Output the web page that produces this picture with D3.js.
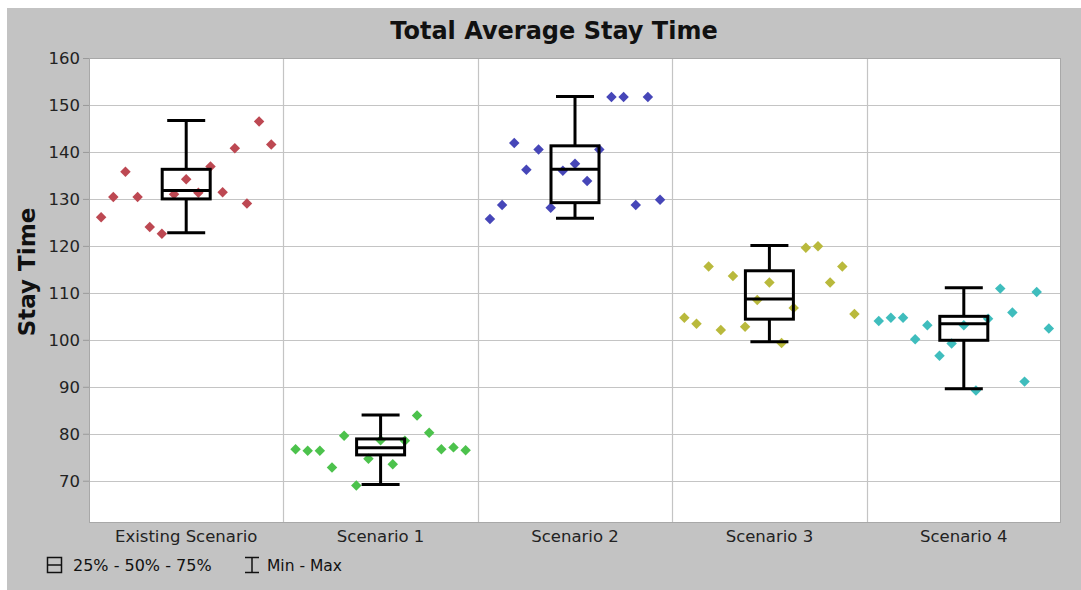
<!DOCTYPE html>
<html>
<head>
<meta charset="utf-8">
<script src="https://cdn.jsdelivr.net/npm/d3@7"></script>
<style>
  body { margin: 0; background: #fff; }
  text { font-family: "DejaVu Sans", Tahoma, sans-serif; }
</style>
</head>
<body>
<div id="chart"></div>
<script>
// scenario names
const categories = ["Existing Scenario", "Scenario 1", "Scenario 2", "Scenario 3", "Scenario 4"];
const colors = ["#bd4852", "#4cc24c", "#4646b8", "#b9b93c", "#3fbdbd"];

// replication results per scenario
const existingVals = [126.1, 130.4, 135.8, 130.4, 124.0, 122.6, 131.0, 134.2, 131.3, 136.9, 131.4, 140.8, 129.0, 146.5, 141.6];
const scen1Vals = [76.7, 76.4, 76.4, 72.8, 79.6, 69.0, 74.7, 78.6, 73.5, 78.5, 83.9, 80.2, 76.7, 77.1, 76.5];
const scen2Vals = [125.7, 128.7, 141.9, 136.2, 140.5, 128.1, 136.0, 137.5, 133.8, 140.5, 151.7, 151.7, 128.7, 151.7, 129.8];
const scen3Vals = [104.7, 103.4, 115.6, 102.1, 113.6, 102.8, 108.5, 112.2, 99.3, 106.8, 119.6, 119.9, 112.2, 115.6, 105.5];
const scen4Vals = [104.0, 104.7, 104.7, 100.1, 103.1, 96.6, 99.2, 103.1, 89.2, 104.5, 110.9, 105.8, 91.1, 110.2, 102.4];
const seriesVals = [existingVals, scen1Vals, scen2Vals, scen3Vals, scen4Vals];

// box stats shown in the chart
const minVals = [122.8, 69.2, 125.9, 99.6, 89.6];
const q1Vals = [130.0, 75.5, 129.2, 104.4, 99.9];
const medVals = [131.8, 77.0, 136.3, 108.7, 103.4];
const q3Vals = [136.3, 78.9, 141.3, 114.7, 105.0];
const maxVals = [146.7, 84.0, 151.8, 120.1, 111.1];

const yTicks = [70, 80, 90, 100, 110, 120, 130, 140, 150, 160];

const W = 1081, H = 590;
const plot = {left: 89, top: 58, right: 1061, bottom: 523};

let svg = d3.select("#chart").append("svg")
  .attr("width", W).attr("height", H);

// grey panel
svg.append("rect").attr("x", 7).attr("y", 8).attr("width", W - 7).attr("height", H - 8)
  .attr("fill", "#c3c3c3");

svg.append("rect")
  .attr("x", plot.left).attr("y", plot.top)
  .attr("width", plot.right - plot.left).attr("height", plot.bottom - plot.top)
  .attr("fill", "#fff");

let x = d3.scaleBand().domain(categories).range([plot.left, plot.right]).padding(0);
let y = d3.scaleLinear().domain([61, 160]).range([plot.bottom, plot.top]);

// gridlines
svg.append("g").selectAll("line")
  .data(yTicks)
  .enter().append("line")
    .attr("x1", plot.left).attr("x2", plot.right)
    .attr("y1", d => Math.round(y(d)) + 0.5).attr("y2", d => Math.round(y(d)) + 0.5)
    .attr("stroke", "#c4c4c4").attr("stroke-width", 1.2);

svg.append("g").selectAll("line")
  .data(categories.slice(1))
  .enter().append("line")
    .attr("x1", d => Math.round(x(d)) + 0.5).attr("x2", d => Math.round(x(d)) + 0.5)
    .attr("y1", plot.top).attr("y2", plot.bottom)
    .attr("stroke", "#c4c4c4").attr("stroke-width", 1.2);

// y axis
let yAxis = d3.axisLeft(y).tickValues(yTicks).tickSize(6).tickPadding(3);
let gy = svg.append("g").attr("transform", "translate(" + plot.left + ",0)").call(yAxis);
gy.select(".domain").remove();
gy.selectAll(".tick line").attr("stroke", "#9a9a9a");
gy.selectAll("text").attr("font-size", 16.5).attr("fill", "#222");

// x axis
let xAxis = d3.axisBottom(x).tickSize(0).tickPadding(7);
let gx = svg.append("g").attr("transform", "translate(0," + plot.bottom + ")").call(xAxis);
gx.select(".domain").remove();
gx.selectAll("text").attr("font-size", 16.5).attr("fill", "#222");

// plot frame
svg.append("rect")
  .attr("x", plot.left + 0.5).attr("y", plot.top + 0.5)
  .attr("width", plot.right - plot.left - 1).attr("height", plot.bottom - plot.top - 1)
  .attr("fill", "none").attr("stroke", "#a8a8a8");

// scatter points, evenly spread across each band
let px = d3.scalePoint().domain(d3.range(15)).range([0, x.bandwidth()]).padding(1);
let diamond = d3.symbol().type(d3.symbolDiamond2).size(70);

let groups = svg.append("g").selectAll("g")
  .data(seriesVals)
  .enter().append("g")
    .attr("transform", (d, i) => "translate(" + x(categories[i]) + ",0)")
    .attr("fill", (d, i) => colors[i]);

groups.selectAll("path")
  .data(d => d)
  .enter().append("path")
    .attr("d", diamond)
    .attr("transform", (d, i) => "translate(" + px(i) + "," + y(d) + ")");

// boxes
let boxW = 48, capW = 38;
let boxes = svg.append("g").selectAll("g")
  .data(categories)
  .enter().append("g")
    .attr("transform", d => "translate(" + (x(d) + x.bandwidth() / 2) + ",0)")
    .attr("stroke", "#000").attr("stroke-width", 3).attr("fill", "none");

boxes.append("line").attr("x1", 0).attr("x2", 0)
  .attr("y1", (d, i) => y(maxVals[i])).attr("y2", (d, i) => y(q3Vals[i]));
boxes.append("line").attr("x1", 0).attr("x2", 0)
  .attr("y1", (d, i) => y(q1Vals[i])).attr("y2", (d, i) => y(minVals[i]));
boxes.append("line").attr("x1", -capW / 2).attr("x2", capW / 2)
  .attr("y1", (d, i) => y(maxVals[i])).attr("y2", (d, i) => y(maxVals[i]));
boxes.append("line").attr("x1", -capW / 2).attr("x2", capW / 2)
  .attr("y1", (d, i) => y(minVals[i])).attr("y2", (d, i) => y(minVals[i]));
boxes.append("rect")
  .attr("x", -boxW / 2).attr("width", boxW)
  .attr("y", (d, i) => y(q3Vals[i]))
  .attr("height", (d, i) => y(q1Vals[i]) - y(q3Vals[i]));
boxes.append("line").attr("x1", -boxW / 2).attr("x2", boxW / 2)
  .attr("y1", (d, i) => y(medVals[i])).attr("y2", (d, i) => y(medVals[i]));

// titles
svg.append("text")
  .attr("x", 554).attr("y", 39)
  .attr("text-anchor", "middle")
  .attr("font-size", 24).attr("font-weight", "bold").attr("fill", "#111")
  .text("Total Average Stay Time");

svg.append("text")
  .attr("transform", "translate(35,272) rotate(-90)")
  .attr("text-anchor", "middle")
  .attr("font-size", 23).attr("font-weight", "bold").attr("fill", "#111")
  .text("Stay Time");

// legend
let leg = svg.append("g").attr("transform", "translate(47,565)");
leg.append("rect").attr("x", 0.5).attr("y", -7.5).attr("width", 14).attr("height", 15)
  .attr("fill", "none").attr("stroke", "#111").attr("stroke-width", 1.5);
leg.append("line").attr("x1", 0.5).attr("x2", 14.5).attr("y1", 0).attr("y2", 0)
  .attr("stroke", "#111").attr("stroke-width", 1.5);
leg.append("text").attr("x", 26).attr("y", 6).attr("font-size", 16).attr("fill", "#111")
  .text("25% - 50% - 75%");

let ib = leg.append("g").attr("transform", "translate(198,0)").attr("stroke", "#111").attr("stroke-width", 1.5);
ib.append("line").attr("x1", 0).attr("x2", 14).attr("y1", -7.5).attr("y2", -7.5);
ib.append("line").attr("x1", 0).attr("x2", 14).attr("y1", 7.5).attr("y2", 7.5);
ib.append("line").attr("x1", 7).attr("x2", 7).attr("y1", -7.5).attr("y2", 7.5);
leg.append("text").attr("x", 220).attr("y", 6).attr("font-size", 15.5).attr("fill", "#111")
  .text("Min - Max");
</script>
</body>
</html>
